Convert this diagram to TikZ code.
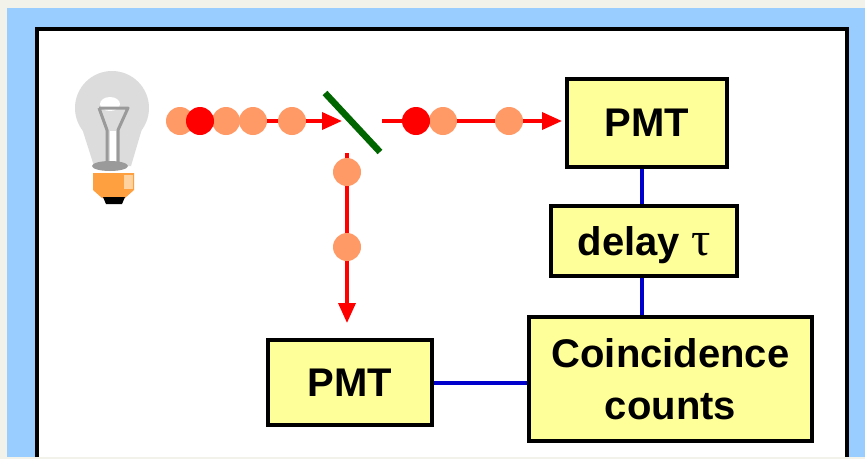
\documentclass[tikz,border=0pt]{standalone}
\usepackage{fontspec}
\setmainfont{Liberation Sans}
\newfontfamily\greekserif{Liberation Serif}
\usetikzlibrary{arrows.meta}
\definecolor{pagebg}{HTML}{F2F2EA}
\definecolor{frameblue}{HTML}{99CCFF}
\definecolor{boxfill}{HTML}{FFFF99}
\definecolor{photonlight}{HTML}{FF9966}
\definecolor{mirrorgreen}{HTML}{006600}
\definecolor{wireblue}{HTML}{0000CC}
\definecolor{glassgray}{HTML}{DCDCDC}
\definecolor{filgray}{HTML}{9A9A9A}
\definecolor{baseorange}{HTML}{FFA040}
\definecolor{baselight}{HTML}{FFD2A0}
\tikzset{
  instrument/.style={draw=black, line width=4pt, fill=boxfill, inner sep=0pt,
    font=\fontsize{40}{52}\selectfont\bfseries, align=center},
  beam/.style={draw=red, line width=3.5pt, -{Triangle[length=20pt,width=17pt]}},
  photon/.style={circle, fill=photonlight, minimum size=28pt, inner sep=0pt},
  photonred/.style={photon, fill=red},
  wire/.style={draw=wireblue, line width=4pt},
}
\begin{document}
\begin{tikzpicture}[x=1pt,y=-1pt]
\useasboundingbox (0,0) rectangle (865,459);
% page and frame
\fill[pagebg] (0,0) rectangle (865,459);
\fill[frameblue] (7,8) rectangle (865,457);
\fill[white] (37,29) rectangle (847,457);
\draw[line width=3.5pt] (37,457) -- (37,29) -- (847,29) -- (847,457);

% light bulb
\fill[glassgray] (112,108) circle (37);
\fill[glassgray] (80,122) -- (144,122) -- (131,166) -- (94,166) -- cycle;
\fill[white] (110,104) ellipse (10 and 7);
\draw[filgray, line width=3pt, line join=round]
  (99,108) -- (128,108) -- (118,130) -- (118,163)
  (99,108) -- (107,130) -- (107,163);
\fill[white] (109.5,131) rectangle (115.5,162);
\fill[filgray] (110,166) ellipse (18 and 5);
\fill[baseorange] (93,173) -- (134,173) -- (134,190) -- (125,198) -- (102,198) -- (93,190) -- cycle;
\fill[baselight] (124,175) rectangle (133,189);
\fill[black] (103,197) -- (125,197) -- (122,204) -- (106,204) -- cycle;

% beam splitter
\draw[mirrorgreen, line width=6.5pt] (325,93) -- (380,152);

% detectors and electronics
\node[instrument, minimum width=160pt, minimum height=88pt] (pmtA) at (647,123) {PMT};
\node[instrument, minimum width=186pt, minimum height=70pt, text depth=0pt] (delay) at (644,241) {delay {\greekserif\mdseries\fontsize{48}{52}\selectfont τ}};
\node[instrument, minimum width=283pt, minimum height=124pt] (coinc) at (670.5,379) {Coincidence\\counts};
\node[instrument, minimum width=164pt, minimum height=85pt] (pmtB) at (350,382.5) {PMT};

% photon paths
\coordinate (lampout) at (180,121);
\coordinate (bsin) at (342,121);
\coordinate (bsout) at (382,121);
\coordinate (bsdown) at (347,153);
\coordinate (wirex) at (642,0);
\draw[beam] (lampout) -- (bsin);
\draw[beam, shorten >=3pt] (bsout) -- (bsout -| pmtA.west);
\draw[beam, shorten >=15pt] (bsdown) -- (bsdown |- pmtB.north);

% photons
\node[photon] (ph1) at (180,121) {};
\node[photon] (ph3) at (226,121) {};
\node[photon] (ph4) at (253,121) {};
\node[photon] (ph5) at (292,121) {};
\node[photonred] (ph2) at (200,121) {};
\node[photon] (ph7) at (443,121) {};
\node[photonred] (ph6) at (416,121) {};
\node[photon] (ph8) at (509,121) {};
\node[photon] (ph9) at (347,172) {};
\node[photon] (ph10) at (347,247) {};

% signal wiring
\draw[wire] (pmtA.south -| wirex) -- (delay.north -| wirex);
\draw[wire] (delay.south -| wirex) -- (coinc.north -| wirex);
\draw[wire] (pmtB.east) -- (pmtB.east -| coinc.west);
\end{tikzpicture}
\end{document}
